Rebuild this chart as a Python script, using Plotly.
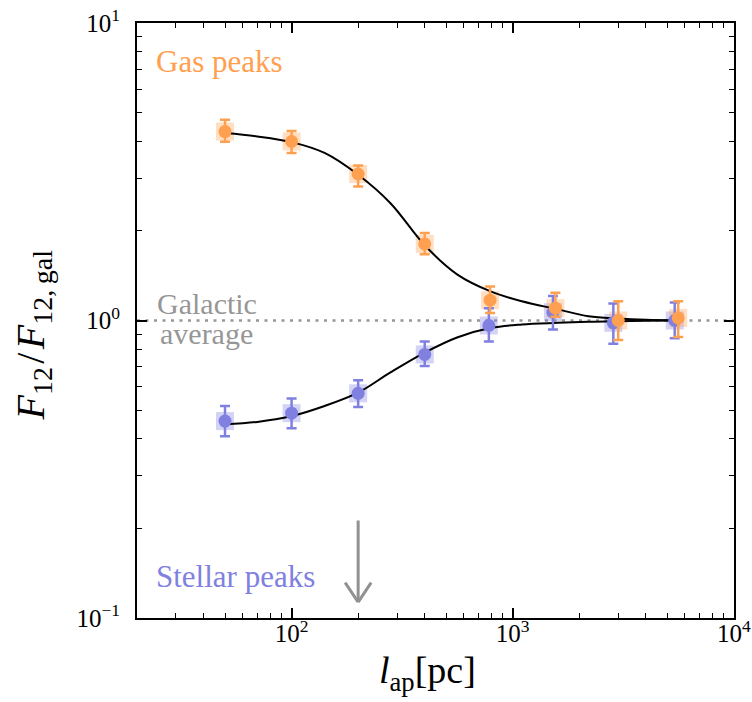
import math
import plotly.graph_objects as go

# ---- data ----
gas_x = [50, 100, 200, 400, 790, 1560, 3000, 5600]
gas_y = [4.32, 4.00, 3.11, 1.81, 1.17, 1.10, 1.00, 1.02]
gas_hi = [4.73, 4.34, 3.32, 1.97, 1.30, 1.24, 1.16, 1.16]
gas_lo = [3.99, 3.66, 2.82, 1.67, 1.06, 1.03, 0.86, 0.88]

st_x = [50, 100, 200, 400, 780, 1520, 2850, 5400]
st_y = [0.459, 0.488, 0.569, 0.769, 0.962, 1.066, 0.982, 1.00]
st_hi = [0.516, 0.547, 0.629, 0.850, 1.10, 1.21, 1.14, 1.15]
st_lo = [0.408, 0.434, 0.512, 0.703, 0.85, 0.933, 0.835, 0.872]

curve_x = [50, 70, 100, 141, 200, 280, 400, 560, 800, 1100, 1600, 2200, 3000, 4000, 5600]
gas_curve = [4.27, 4.16, 3.98, 3.66, 3.09, 2.48, 1.79, 1.43, 1.25, 1.16, 1.09, 1.034, 1.015, 1.005, 1.0]
st_curve = [0.448, 0.456, 0.477, 0.516, 0.572, 0.669, 0.78, 0.877, 0.945, 0.97, 0.982, 0.99, 0.995, 0.998, 1.0]

gal_avg = 1.0
x_limits = [20, 10000]
y_limits = [0.1, 10]
arrow_x = 200
arrow_y_tail = 0.215
arrow_y_tip = 0.113

x_ticks = [100, 1000, 10000]
x_ticktext = ["10<sup>2</sup>", "10<sup>3</sup>", "10<sup>4</sup>"]
y_ticks = [0.1, 1, 10]
y_ticktext = ["10<sup>\u22121</sup>", "10<sup>0</sup>", "10<sup>1</sup>"]

ORANGE = "rgb(255,160,80)"
ORANGE_L = "rgba(255,160,80,0.35)"
PURPLE = "rgb(128,128,225)"
PURPLE_L = "rgba(128,128,225,0.35)"
GREY = "rgb(150,150,150)"
ARROW_GREY = "rgb(145,145,145)"
FONT = "Liberation Serif, Times New Roman, serif"

def minor_vals(lo_exp, hi_exp):
    vals = []
    for e in range(lo_exp, hi_exp):
        for m in range(2, 10):
            vals.append(m * 10 ** e)
    return vals

fig = go.Figure()

# dotted galactic average
fig.add_trace(go.Scatter(x=x_limits, y=[gal_avg, gal_avg], mode="lines",
                         line=dict(color=GREY, width=2.5, dash="3px,5.5px"),
                         hoverinfo="skip", showlegend=False))

# light squares
fig.add_trace(go.Scatter(x=st_x, y=st_y, mode="markers",
                         marker=dict(symbol="square", size=18, color=PURPLE_L, line=dict(width=0)),
                         showlegend=False))
fig.add_trace(go.Scatter(x=gas_x, y=gas_y, mode="markers",
                         marker=dict(symbol="square", size=18, color=ORANGE_L, line=dict(width=0)),
                         showlegend=False))

# model curves
fig.add_trace(go.Scatter(x=curve_x, y=gas_curve, mode="lines", line=dict(color="black", width=2, shape="spline"),
                         showlegend=False))
fig.add_trace(go.Scatter(x=curve_x, y=st_curve, mode="lines", line=dict(color="black", width=2, shape="spline"),
                         showlegend=False))

# points with error bars
fig.add_trace(go.Scatter(
    x=st_x, y=st_y, mode="markers",
    marker=dict(symbol="circle", size=13, color=PURPLE),
    error_y=dict(type="data", symmetric=False,
                 array=[h - v for h, v in zip(st_hi, st_y)],
                 arrayminus=[v - l for l, v in zip(st_lo, st_y)],
                 color=PURPLE, thickness=2.5, width=5),
    showlegend=False))
fig.add_trace(go.Scatter(
    x=gas_x, y=gas_y, mode="markers",
    marker=dict(symbol="circle", size=13, color=ORANGE),
    error_y=dict(type="data", symmetric=False,
                 array=[h - v for h, v in zip(gas_hi, gas_y)],
                 arrayminus=[v - l for l, v in zip(gas_lo, gas_y)],
                 color=ORANGE, thickness=2.5, width=5),
    showlegend=False))

ax_log = math.log10(arrow_x)
annotations = [
    dict(text="Gas peaks", xref="paper", yref="paper", x=0.028, y=0.935, xanchor="left", yanchor="middle",
         showarrow=False, font=dict(family=FONT, size=31, color=ORANGE)),
    dict(text="Stellar peaks", xref="paper", yref="paper", x=0.028, y=0.069, xanchor="left", yanchor="middle",
         showarrow=False, font=dict(family=FONT, size=31, color=PURPLE)),
    dict(text="Galactic", xref="paper", yref="paper", x=0.117, y=0.529, xanchor="center", yanchor="middle",
         showarrow=False, font=dict(family=FONT, size=30, color=GREY)),
    dict(text="average", xref="paper", yref="paper", x=0.117, y=0.478, xanchor="center", yanchor="middle",
         showarrow=False, font=dict(family=FONT, size=30, color=GREY)),
    # arrow shaft
    dict(text="", x=ax_log, y=math.log10(arrow_y_tip), xref="x", yref="y",
         ax=ax_log, ay=math.log10(arrow_y_tail), axref="x", ayref="y",
         showarrow=True, arrowhead=0, arrowwidth=3, arrowcolor=ARROW_GREY),
    # arrow head arms (pixel offsets from tip)
    dict(text="", x=ax_log, y=math.log10(arrow_y_tip), xref="x", yref="y",
         ax=-14, ay=-21, showarrow=True, arrowhead=0, arrowwidth=3, arrowcolor=ARROW_GREY),
    dict(text="", x=ax_log, y=math.log10(arrow_y_tip), xref="x", yref="y",
         ax=14, ay=-21, showarrow=True, arrowhead=0, arrowwidth=3, arrowcolor=ARROW_GREY),
    dict(text="<i>F</i><sub>12</sub>\u200a/\u200a<i>F</i><sub>12,\u2009gal</sub>", xref="paper", yref="paper",
         x=-0.174, y=0.475, xanchor="center", yanchor="middle", textangle=-90, showarrow=False,
         font=dict(family=FONT, size=40, color="black")),
    dict(text="<i>l</i><sub>ap</sub>[pc]", xref="paper", yref="paper",
         x=0.486, y=-0.092, xanchor="center", yanchor="middle", showarrow=False,
         font=dict(family=FONT, size=38, color="black")),
]

axis_common = dict(showline=True, linewidth=2, linecolor="black", mirror="allticks",
                   ticks="inside", ticklen=10, tickwidth=1.5, tickcolor="black",
                   showgrid=False, zeroline=False, automargin=False, ticklabeloverflow="allow",
                   tickfont=dict(family=FONT, size=25, color="black"))

fig.update_layout(
    width=752, height=702,
    margin=dict(l=137, r=18, t=23, b=84),
    plot_bgcolor="white", paper_bgcolor="white",
    annotations=annotations,
    xaxis=dict(type="log", range=[math.log10(x_limits[0]), math.log10(x_limits[1]) + 0.0005],
               tickmode="array", tickvals=x_ticks, ticktext=x_ticktext,
               minor=dict(tickmode="array", tickvals=minor_vals(1, 4), ticks="inside", ticklen=5,
                          tickwidth=1.2, tickcolor="black", showgrid=False),
               ticklabelstandoff=-8, **axis_common),
    yaxis=dict(type="log", range=[math.log10(y_limits[0]) - 0.0005, math.log10(y_limits[1]) + 0.0005],
               tickmode="array", tickvals=y_ticks, ticktext=y_ticktext,
               minor=dict(tickmode="array", tickvals=minor_vals(-1, 1), ticks="inside", ticklen=5,
                          tickwidth=1.2, tickcolor="black", showgrid=False),
               ticklabelstandoff=10, **axis_common),
)

# remove the default 8px page margin so the 752x702 figure fills the window exactly
fig.write_html("out.html", config={"displayModeBar": False},
               post_script="document.body.style.margin='0';document.body.style.overflow='hidden';")
